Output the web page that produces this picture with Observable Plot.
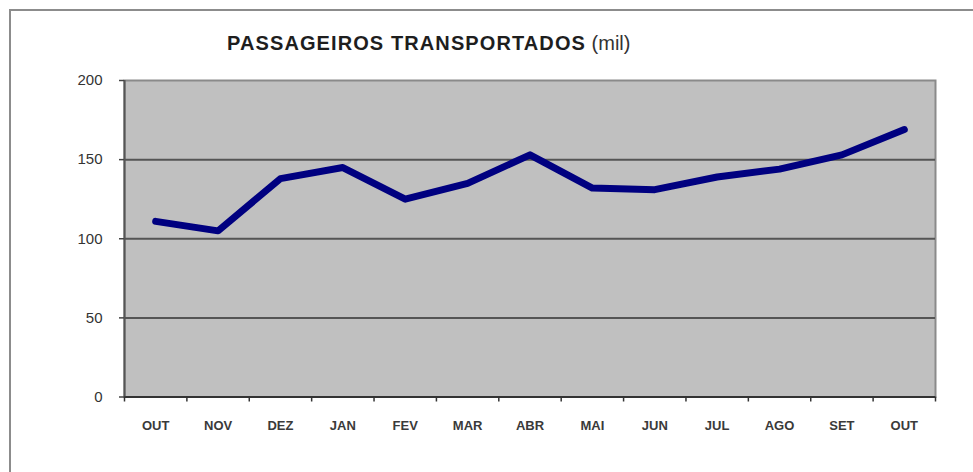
<!DOCTYPE html>
<html>
<head>
<meta charset="utf-8">
<script src="https://cdn.jsdelivr.net/npm/d3@7"></script>
<script src="https://cdn.jsdelivr.net/npm/@observablehq/plot@0.6"></script>
<style>
  html, body { margin: 0; padding: 0; background: #fff; overflow: hidden; }
  #wrap { position: relative; width: 973px; height: 472px; font-family: "Liberation Sans", Arial, sans-serif; }
  #border { position: absolute; left: 9px; top: 9px; width: 1100px; height: 600px; border-left: 2px solid #8c8c8c; border-top: 2px solid #8c8c8c; }
  #chart { position: absolute; left: 0; top: 0; }
  #title { position: absolute; left: 227px; top: 33px; font-size: 20px; line-height: 20px; color: #1e1e1e; white-space: nowrap; }
  #title b { letter-spacing: 1.1px; }
  #title span { color: #333; }
</style>
</head>
<body>
<div id="wrap">
  <div id="border"></div>
  <div id="chart"></div>
  <div id="title"><b>PASSAGEIROS TRANSPORTADOS</b> <span>(mil)</span></div>
</div>
<script>
const months = ["OUT","NOV","DEZ","JAN","FEV","MAR","ABR","MAI","JUN","JUL","AGO","SET","OUT"];
const values = [111, 105, 138, 145, 125, 135, 153, 132, 131, 139, 144, 153, 169];
const yTicks = [0, 50, 100, 150, 200];
const gridValues = [50, 100, 150];

const data = months.map((m, i) => ({pos: i + 0.5, month: m, value: values[i]}));
const boundaries = d3.range(months.length + 1);
const centers = months.map((m, i) => i + 0.5);

const chart = Plot.plot({
  width: 973,
  height: 472,
  marginLeft: 124,
  marginRight: 38,
  marginTop: 80,
  marginBottom: 75.5,
  style: {fontFamily: "'Liberation Sans', Arial, sans-serif", background: "transparent"},
  x: {domain: [0, months.length], axis: null, label: null},
  y: {domain: [0, 200], axis: null, label: null},
  marks: [
    Plot.frame({fill: "#c0c0c0", stroke: "#8a8a8a", strokeWidth: 2}),
    Plot.gridY(gridValues, {stroke: "#555", strokeOpacity: 1, strokeWidth: 2}),
    Plot.ruleY([0], {stroke: "#333", strokeWidth: 2}),
    Plot.ruleX([0], {stroke: "#555", strokeWidth: 2}),
    Plot.axisY(yTicks, {label: null, tickSize: 5, tickPadding: 17, fontSize: 15, stroke: "#444", fill: "#333", strokeWidth: 1.5}),
    Plot.axisX(boundaries, {label: null, tickSize: 5, tickFormat: () => "", stroke: "#333", strokeWidth: 1.5}),
    Plot.axisX(centers, {label: null, tickSize: 0, tickPadding: 24, fontSize: 13, fontWeight: "bold", fill: "#3a3a3a",
      tickFormat: (d) => months[Math.round(d - 0.5)]}),
    Plot.line(data, {x: "pos", y: "value", stroke: "#000080", strokeWidth: 7, strokeLinejoin: "round", strokeLinecap: "round"})
  ]
});
document.getElementById("chart").append(chart);
</script>
</body>
</html>
